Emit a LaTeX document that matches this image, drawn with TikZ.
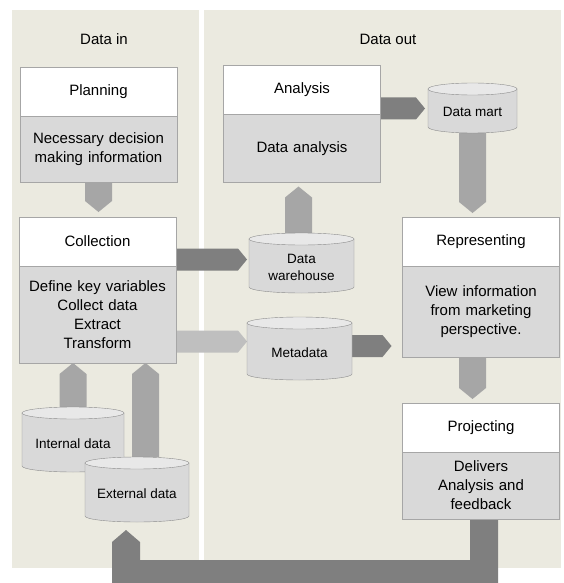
\documentclass[tikz,border=0pt]{standalone}
\usepackage{fontspec}
\setmainfont{Liberation Sans}
\usetikzlibrary{positioning,calc}

\definecolor{panel}{HTML}{EBEAE0}
\definecolor{boxgray}{HTML}{D9D9D9}
\definecolor{boxline}{HTML}{A6A6A6}
\definecolor{drumline}{HTML}{8C8C8C}
\definecolor{drumtop}{HTML}{E8E8E8}
\definecolor{darkarr}{HTML}{7F7F7F}
\definecolor{midarr}{HTML}{A6A6A6}
\definecolor{lightarr}{HTML}{BFBFBF}

\pgfdeclarelayer{back}
\pgfsetlayers{back,main}

\tikzset{
  paneltext/.style={inner sep=0pt, font=\fontsize{15}{18}\selectfont},
  boxhead/.style={draw=boxline, fill=white, minimum width=157pt, minimum height=49pt,
    inner sep=0pt, outer sep=0pt, font=\fontsize{15}{19}\selectfont},
  boxbody/.style={draw=boxline, fill=boxgray, minimum width=157pt, text width=150pt,
    align=center, inner sep=0pt, outer sep=0pt, font=\fontsize{15}{19}\selectfont},
  drumtext/.style={inner sep=0pt, align=center, font=\fontsize{13.5}{17}\selectfont}
}

% block arrows: colour, start, tip
\newcommand{\downblk}[3]{\fill[#1] let \p1=#2, \p2=#3 in
  (\x1-13.5pt,\y1) -- (\x1+13.5pt,\y1) -- (\x1+13.5pt,\y2+11pt) -- (\x1,\y2) -- (\x1-13.5pt,\y2+11pt) -- cycle;}
\newcommand{\upblk}[3]{\fill[#1] let \p1=#2, \p2=#3 in
  (\x1-13.5pt,\y1) -- (\x1+13.5pt,\y1) -- (\x1+13.5pt,\y2-11pt) -- (\x1,\y2) -- (\x1-13.5pt,\y2-11pt) -- cycle;}
\newcommand{\rightblk}[3]{\fill[#1] let \p1=#2, \p2=#3 in
  (\x1,\y1-11pt) -- (\x2-9pt,\y1-11pt) -- (\x2,\y1) -- (\x2-9pt,\y1+11pt) -- (\x1,\y1+11pt) -- cycle;}

% drum: name, cx, cy, half width, half height, text
\newcommand{\drum}[6]{%
  \fill[boxgray] (#2-#4,#3-#5+6) -- (#2-#4,#3+#5-6)
    arc[start angle=180, end angle=360, x radius=#4pt, y radius=6pt] -- (#2+#4,#3-#5+6) -- cycle;
  \draw[drumline] (#2-#4,#3-#5+6) -- (#2-#4,#3+#5-6)
    arc[start angle=180, end angle=360, x radius=#4pt, y radius=6pt] -- (#2+#4,#3-#5+6);
  \filldraw[drumline, fill=drumtop] (#2,#3-#5+6) ellipse[x radius=#4pt, y radius=6pt];
  \node[inner sep=0pt, outer sep=0pt, minimum width=2*#4pt, minimum height=2*#5pt] (#1) at (#2,#3) {};
  \node[drumtext] (#1-txt) at (#2,#3+4) {#6};
}

\begin{document}
\begin{tikzpicture}[x=1pt,y=-1pt]
\begin{pgfonlayer}{back}
\fill[white] (0,0) rectangle (563,583);
\fill[panel] (12,10) rectangle (199,568);
\fill[panel] (204,10) rectangle (561,568);
\end{pgfonlayer}

\node[paneltext] (in) at (104,39) {Data in};
\node[paneltext] (out) at (388,39) {Data out};

\node[boxhead] (plant) at (98.5,91.5) {Planning};
\node[boxbody, minimum height=66pt, below=0pt of plant] (planb) {Necessary decision\\making information};

\node[boxhead] (collt) at (97.5,241.5) {Collection};
\node[boxbody, minimum height=97pt, below=0pt of collt] (collb) {Define key variables\\Collect data\\Extract\\Transform};

\node[boxhead] (anat) at (302,90) {Analysis};
\node[boxbody, minimum height=68pt, below=0pt of anat] (anab) {Data analysis};

\node[boxhead] (rept) at (481,241.5) {Representing};
\node[boxbody, minimum height=91pt, below=0pt of rept] (repb) {View information\\from marketing\\perspective.};

\node[boxhead] (projt) at (481,427.5) {Projecting};
\node[boxbody, minimum height=67pt, below=0pt of projt] (projb) {Delivers\\Analysis and\\feedback};

\drum{mart}{472.5}{108}{44.5}{25}{Data mart}
\drum{wh}{301.5}{263}{52.5}{30}{Data\\warehouse}
\drum{meta}{299.5}{348.5}{52.5}{31.5}{Metadata}
\drum{int}{73}{439.5}{51}{32.5}{Internal data}
\drum{ext}{137}{489.5}{52}{32.5}{External data}

\coordinate (loop) at (300,571.5);

\begin{pgfonlayer}{back}
\downblk{midarr}{(planb.south)}{($(collt.north)+(0,-5)$)}
\upblk{midarr}{($(wh.north)+(-3,0)$)}{($(anab.south)+(0,4)$)}
\downblk{midarr}{(mart.south)}{($(rept.north)+(0,-4)$)}
\downblk{midarr}{(repb.south -| mart.south)}{($(projt.north)+(0,-4)$)}
\upblk{midarr}{(int.north)}{(collb.south)}
\upblk{midarr}{($(ext.north)+(8.5,0)$)}{(collb.south)}
\rightblk{darkarr}{($(anat.south east)+(0,-6)$)}{($(mart.west)+(-3,0)$)}
\rightblk{darkarr}{($(collt.south east)+(0,-6.5)$)}{($(wh.west)+(-2,0)$)}
\rightblk{lightarr}{($(collb.east |- meta.center)+(0,-7)$)}{(meta.west)}
\rightblk{darkarr}{($(meta.east)+(0,-2.5)$)}{($(repb.west)+(-11,0)$)}
\fill[darkarr] let \p1=($(projb.south)+(3,0)$), \p2=($(ext.south)+(-11,8)$), \p3=(loop) in
  (\x1+14pt,\y1) -- (\x1+14pt,\y3-11.5pt) -- (\x2-14pt,\y3-11.5pt) -- (\x2-14pt,\y2-12pt)
  -- (\x2,\y2) -- (\x2+14pt,\y2-12pt) -- (\x2+14pt,\y3+11.5pt) -- (\x1-14pt,\y3+11.5pt)
  -- (\x1-14pt,\y1) -- cycle;
\end{pgfonlayer}
\end{tikzpicture}
\end{document}
